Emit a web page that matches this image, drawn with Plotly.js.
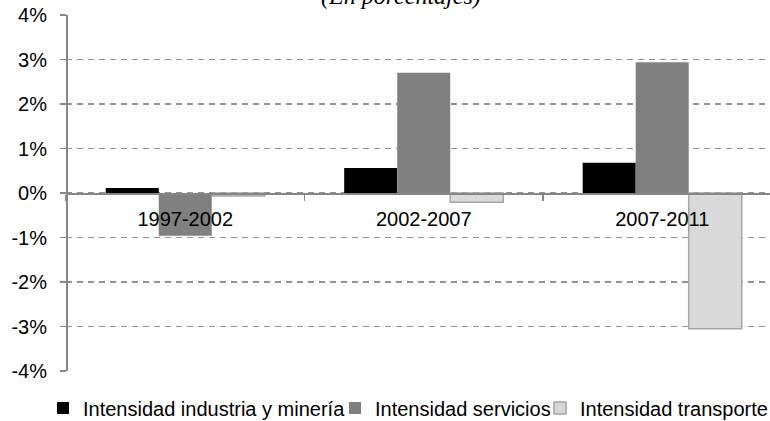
<!DOCTYPE html>
<html>
<head>
<meta charset="utf-8">
<script src="https://cdn.plot.ly/plotly-3.0.1.min.js"></script>
<style>html,body{margin:0;padding:0;background:#fff;}#chart{width:770px;height:421px;}</style>
</head>
<body>
<div id="chart"></div>
<script>
var periods = ['1997-2002', '2002-2007', '2007-2011'];
var industria = [0.11, 0.56, 0.68];
var servicios = [-0.96, 2.70, 2.94];
var transporte = [-0.07, -0.21, -3.05];
var seriesNames = ['Intensidad industria y minería', 'Intensidad servicios', 'Intensidad transporte'];
var yTickVals = [-4, -3, -2, -1, 0, 1, 2, 3, 4];
var yTickText = ['-4%', '-3%', '-2%', '-1%', '0%', '1%', '2%', '3%', '4%'];
var titleText = '(En porcentajes)';

var font = 'Liberation Sans, Arial, sans-serif';
var traces = [
  {type: 'bar', x: periods, y: industria, name: seriesNames[0], legend: 'legend',
   marker: {color: '#000000', line: {width: 0}}},
  {type: 'bar', x: periods, y: servicios, name: seriesNames[1], legend: 'legend2',
   marker: {color: '#808080', line: {width: 0}}},
  {type: 'bar', x: periods, y: transporte, name: seriesNames[2], legend: 'legend3',
   marker: {color: '#d9d9d9', line: {width: 1.5, color: '#a6a6a6'}}}
];

function leg(px) {
  return {x: px / 770, y: (421 - 408) / 421, xref: 'container', yref: 'container',
    xanchor: 'left', yanchor: 'middle',
    orientation: 'h', font: {family: font, size: 20, color: '#000'}, bgcolor: 'rgba(0,0,0,0)',
    borderwidth: 0};
}

var layout = {
  width: 770, height: 421,
  margin: {l: 66, r: 0, t: 15, b: 50, pad: 0, autoexpand: false},
  paper_bgcolor: '#ffffff', plot_bgcolor: '#ffffff',
  barmode: 'group', bargap: 0.333, bargroupgap: 0,
  showlegend: true,
  legend: leg(43),
  legend2: leg(335),
  legend3: leg(540),
  xaxis: {
    type: 'category', range: [-0.5, 2.452], anchor: 'free', position: 0.5,
    showline: true, linecolor: '#868686', linewidth: 1.5,
    ticks: 'outside', tickson: 'boundaries', ticklen: 6, tickcolor: '#868686', tickwidth: 1.5,
    ticklabelstandoff: 7,
    showgrid: false, zeroline: false,
    tickfont: {family: font, size: 20, color: '#000'}
  },
  yaxis: {
    range: [-4, 4], anchor: 'free', position: 0,
    tickvals: yTickVals, ticktext: yTickText,
    showline: true, linecolor: '#868686', linewidth: 1.5,
    ticks: 'outside', ticklen: 6, tickcolor: '#868686', tickwidth: 1.5,
    ticklabelstandoff: 9,
    showgrid: true, gridcolor: '#939393', gridwidth: 1.5, griddash: '6px,5px',
    zeroline: false,
    tickfont: {family: font, size: 20, color: '#000'}
  },
  annotations: [{
    text: titleText, xref: 'paper', yref: 'paper', x: 0.476, y: 1.0534,
    xanchor: 'center', yanchor: 'middle', showarrow: false,
    font: {family: 'Liberation Serif, Times New Roman, serif', size: 24, color: '#000', style: 'italic'}
  }]
};

Plotly.newPlot('chart', traces, layout, {displayModeBar: false, staticPlot: true});
</script>
</body>
</html>
